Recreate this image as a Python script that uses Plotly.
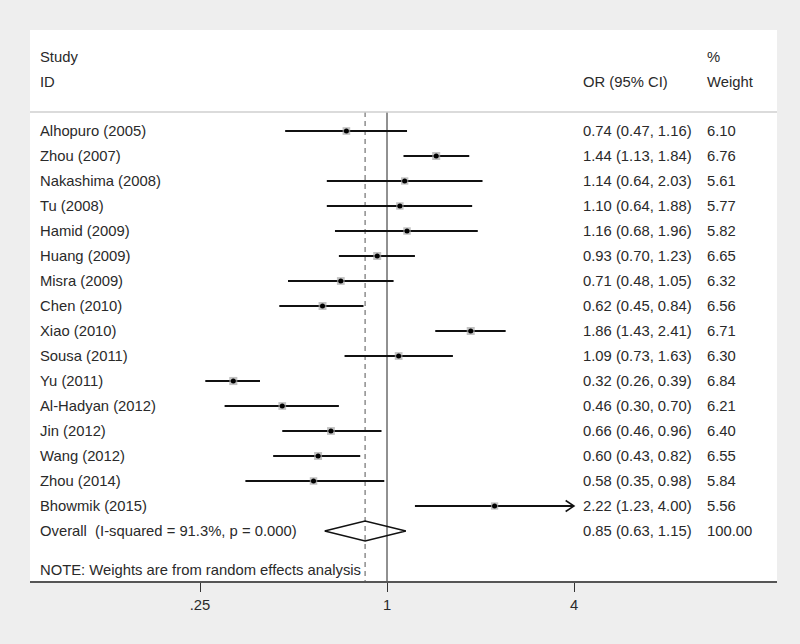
import plotly.graph_objects as go

studies = ["Alhopuro (2005)", "Zhou (2007)", "Nakashima (2008)", "Tu (2008)", "Hamid (2009)",
           "Huang (2009)", "Misra (2009)", "Chen (2010)", "Xiao (2010)", "Sousa (2011)",
           "Yu (2011)", "Al-Hadyan (2012)", "Jin (2012)", "Wang (2012)", "Zhou (2014)",
           "Bhowmik (2015)"]
odds = [0.74, 1.44, 1.14, 1.10, 1.16, 0.93, 0.71, 0.62, 1.86, 1.09, 0.32, 0.46, 0.66, 0.60, 0.58, 2.22]
ci_low = [0.47, 1.13, 0.64, 0.64, 0.68, 0.70, 0.48, 0.45, 1.43, 0.73, 0.26, 0.30, 0.46, 0.43, 0.35, 1.23]
ci_high = [1.16, 1.84, 2.03, 1.88, 1.96, 1.23, 1.05, 0.84, 2.41, 1.63, 0.39, 0.70, 0.96, 0.82, 0.98, 4.00]
weights = [6.10, 6.76, 5.61, 5.77, 5.82, 6.65, 6.32, 6.56, 6.71, 6.30, 6.84, 6.21, 6.40, 6.55, 5.84, 5.56]

overall_label = "Overall\u00a0\u00a0(I-squared = 91.3%, p = 0.000)"
overall_or, overall_lo, overall_hi, overall_w = 0.85, 0.63, 1.15, 100.00
axis_max = 4.0
tick_vals = [0.25, 1, 4]
tick_text = [".25", "1", "4"]
note = "NOTE: Weights are from random effects analysis"

FONT = "Liberation Sans, Arial, sans-serif"
TXT = "#2a2a2a"
FS = 14.8
BG = "#eeeeee"

fig = go.Figure()
rows = list(range(len(studies)))
ov_row = len(studies)

# CI lines
for i in rows:
    hi = min(ci_high[i], axis_max)
    fig.add_trace(go.Scatter(x=[ci_low[i], hi], y=[i, i], mode="lines",
                             line=dict(color="#111111", width=2), hoverinfo="skip", showlegend=False))
    if ci_high[i] >= axis_max:
        fig.add_trace(go.Scatter(x=[hi * 0.94, hi, hi * 0.94], y=[i - 0.22, i, i + 0.22], mode="lines",
                                 line=dict(color="#111111", width=1.5), hoverinfo="skip", showlegend=False))

# weight boxes
fig.add_trace(go.Scatter(x=odds, y=rows, mode="markers",
                         marker=dict(symbol="square", color="#a8a8a8",
                                     size=[3.1 * w ** 0.5 for w in weights], line=dict(width=0)),
                         hoverinfo="skip", showlegend=False))
# point estimates
fig.add_trace(go.Scatter(x=odds, y=rows, mode="markers",
                         marker=dict(symbol="circle", color="#000000", size=5),
                         hoverinfo="skip", showlegend=False))

# overall diamond
fig.add_trace(go.Scatter(x=[overall_lo, overall_or, overall_hi, overall_or, overall_lo],
                         y=[ov_row, ov_row - 0.4, ov_row, ov_row + 0.4, ov_row],
                         mode="lines", fill="toself", fillcolor="rgba(255,255,255,0)",
                         line=dict(color="#111111", width=1.5), hoverinfo="skip", showlegend=False))

y_top, y_bot = -4.04, 18.0
sep_y = -0.76

shapes = [
    dict(type="line", xref="paper", yref="y", x0=0, x1=1, y0=sep_y, y1=sep_y,
         line=dict(color="#cfcfcf", width=1.5)),
    dict(type="line", xref="x", yref="y", x0=1, x1=1, y0=sep_y, y1=y_bot,
         line=dict(color="#222222", width=1), layer="below"),
    dict(type="line", xref="x", yref="y", x0=overall_or, x1=overall_or, y0=sep_y, y1=y_bot,
         line=dict(color="#555555", width=1, dash="5px,4px"), layer="below"),
]

ann = []
def txt(xp, y, s):
    ann.append(dict(xref="paper", yref="y", x=xp, y=y, text=s, showarrow=False,
                    xanchor="left", yanchor="middle", font=dict(family=FONT, size=FS, color=TXT)))

X_NAME, X_OR, X_W = 0.0107, 0.7376, 0.9036
txt(X_NAME, -2.96, "Study")
txt(X_NAME, -1.96, "ID")
txt(X_OR, -1.96, "OR (95% CI)")
txt(X_W, -2.96, "%")
txt(X_W, -1.96, "Weight")
for i in rows:
    txt(X_NAME, i, studies[i])
    txt(X_OR, i, f"{odds[i]:.2f} ({ci_low[i]:.2f}, {ci_high[i]:.2f})")
    txt(X_W, i, f"{weights[i]:.2f}")
txt(X_NAME, ov_row, overall_label)
txt(X_OR, ov_row, f"{overall_or:.2f} ({overall_lo:.2f}, {overall_hi:.2f})")
txt(X_W, ov_row, f"{overall_w:.2f}")
txt(X_NAME, 17.56, note)

fig.update_layout(
    width=792, height=636,
    margin=dict(l=22, r=23, t=22, b=63),
    paper_bgcolor=BG, plot_bgcolor="#ffffff",
    shapes=shapes, annotations=ann,
    xaxis=dict(type="log", range=[-1.1494, 1.2556], tickvals=tick_vals, ticktext=tick_text,
               ticks="outside", ticklen=9, tickwidth=1.2, tickcolor="#333333",
               showline=True, linecolor="#555555", linewidth=2, showgrid=False, zeroline=False,
               tickfont=dict(family=FONT, size=FS, color=TXT)),
    yaxis=dict(range=[y_bot, y_top], showgrid=False, zeroline=False, showticklabels=False,
               showline=False),
)

fig.write_html("out.html", post_script="document.body.style.background='%s';" % BG)
